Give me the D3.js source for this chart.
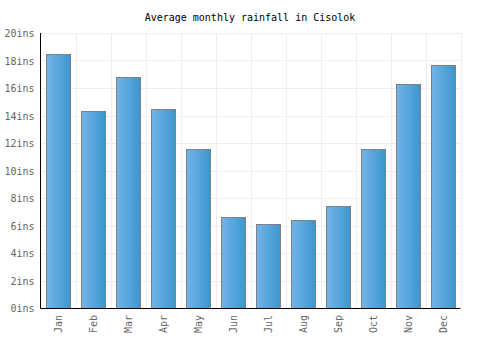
<!DOCTYPE html>
<html>
<head>
<meta charset="utf-8">
<script src="https://cdn.jsdelivr.net/npm/d3@7"></script>
<style>
  body { margin: 0; background: #fff; }
  svg text { font-family: "DejaVu Sans Mono", monospace; }
</style>
</head>
<body>
<div id="chart"></div>
<script>
const MONTHS = ["Jan", "Feb", "Mar", "Apr", "May", "Jun", "Jul", "Aug", "Sep", "Oct", "Nov", "Dec"];
const RAINFALL = [18.5, 14.3, 16.8, 14.5, 11.6, 6.6, 6.1, 6.4, 7.4, 11.6, 16.3, 17.7];
const Y_TICKS = [0, 2, 4, 6, 8, 10, 12, 14, 16, 18, 20];
const TITLE = "Average monthly rainfall in Cisolok";

const width = 500;
const height = 350;
const margin = { top: 33, right: 39.5, bottom: 42, left: 40.5 };

const svg = d3.select("#chart").append("svg").attr("width", width).attr("height", height);

const x = d3.scaleBand().domain(MONTHS).range([margin.left, width - margin.right]).paddingInner(0.31).paddingOuter(0.155);
const grid = d3.scaleBand().domain(MONTHS).range([margin.left, width - margin.right]);
const y = d3.scaleLinear().domain([0, 20]).range([height - margin.bottom, margin.top]);

const defs = svg.append("defs");
const gradient = defs.append("linearGradient").attr("id", "bar-gradient").attr("x1", "0%").attr("x2", "100%");
gradient.append("stop").attr("offset", "0%").attr("stop-color", "#72b4e9");
gradient.append("stop").attr("offset", "100%").attr("stop-color", "#3b97cf");

// grid
svg.append("g")
  .selectAll("line")
  .data(Y_TICKS.filter((d) => d > 0))
  .join("line")
  .attr("x1", margin.left)
  .attr("x2", width - margin.right)
  .attr("y1", (d) => Math.round(y(d)) + 0.5)
  .attr("y2", (d) => Math.round(y(d)) + 0.5)
  .attr("stroke", "#eeeeee");

svg.append("g")
  .selectAll("line")
  .data(MONTHS.slice(1).concat(["end"]))
  .join("line")
  .attr("x1", (d) => Math.round(d === "end" ? width - margin.right : grid(d)) + 0.5)
  .attr("x2", (d) => Math.round(d === "end" ? width - margin.right : grid(d)) + 0.5)
  .attr("y1", margin.top)
  .attr("y2", height - margin.bottom)
  .attr("stroke", "#eeeeee");

// bars
svg.append("g")
  .selectAll("rect")
  .data(MONTHS.map((m, i) => ({ month: m, value: RAINFALL[i] })))
  .join("rect")
  .attr("x", (d) => Math.round(x(d.month)) + 0.5)
  .attr("y", (d) => Math.round(y(d.value)) + 0.5)
  .attr("width", Math.round(x.bandwidth()))
  .attr("height", (d) => Math.round(y(0)) - Math.round(y(d.value)))
  .attr("fill", "url(#bar-gradient)")
  .attr("stroke", "#808080")
  .attr("stroke-width", 1);

// axes lines
svg.append("line")
  .attr("x1", margin.left).attr("x2", margin.left)
  .attr("y1", margin.top).attr("y2", height - margin.bottom + 0.5)
  .attr("stroke", "#000");
svg.append("line")
  .attr("x1", margin.left).attr("x2", width - margin.right)
  .attr("y1", Math.round(y(0)) + 0.5).attr("y2", Math.round(y(0)) + 0.5)
  .attr("stroke", "#000");

// y labels
svg.append("g")
  .selectAll("text")
  .data(Y_TICKS)
  .join("text")
  .attr("x", margin.left - 6)
  .attr("y", (d) => y(d) + 4)
  .attr("text-anchor", "end")
  .attr("fill", "#666")
  .attr("font-size", 10)
  .text((d) => `${d}ins`);

// x labels
svg.append("g")
  .selectAll("text")
  .data(MONTHS)
  .join("text")
  .attr("transform", (d) => `translate(${grid(d) + grid.bandwidth() / 2 + 4}, ${height - margin.bottom + 7}) rotate(-90)`)
  .attr("text-anchor", "end")
  .attr("fill", "#666")
  .attr("font-size", 10)
  .text((d) => d);

svg.append("text")
  .attr("x", 250)
  .attr("y", 20.5)
  .attr("text-anchor", "middle")
  .attr("fill", "#000")
  .attr("font-size", 10)
  .text(TITLE);
</script>
</body>
</html>
